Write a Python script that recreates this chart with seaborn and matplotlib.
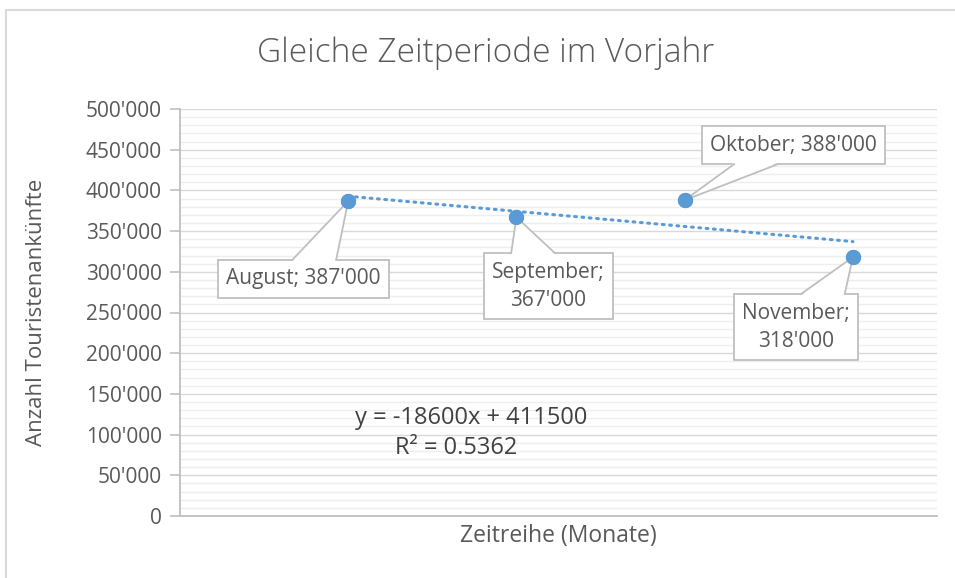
import numpy as np
import pandas as pd
import matplotlib
matplotlib.use("Agg")
import matplotlib.pyplot as plt
import seaborn as sns
from matplotlib.ticker import FuncFormatter, MultipleLocator
from matplotlib.lines import Line2D
from matplotlib.patches import Polygon

# ---- data ----
months = ["August", "September", "Oktober", "November"]
month_index = [1, 2, 3, 4]
arrivals = [387000, 367000, 388000, 318000]
y_ticks = [0, 50000, 100000, 150000, 200000, 250000, 300000, 350000, 400000, 450000, 500000]

df = pd.DataFrame({"Monat": months, "x": month_index, "Ankuenfte": arrivals})

# ---- style ----
sns.set_theme(style="white")
plt.rcParams["font.family"] = ["Open Sans", "DejaVu Sans"]

GRAY_TXT = "#595959"
BLUE = "#5B9BD5"
BOX_EC = "#BFBFBF"

fig = plt.figure(figsize=(9.55, 5.78), dpi=100)
ax = fig.add_axes([180 / 955, 1 - 516 / 578, (937 - 180) / 955, (516 - 109) / 578])

ax.set_xlim(0, 4.5)
ax.set_ylim(0, 500000)

# gridlines
ax.yaxis.set_major_locator(MultipleLocator(50000))
ax.yaxis.set_minor_locator(MultipleLocator(10000))
ax.grid(which="major", axis="y", color="#D9D9D9", lw=1.0, zorder=0)
ax.grid(which="minor", axis="y", color="#EEEEEE", lw=1.0, zorder=0)
ax.set_axisbelow(True)

# trendline from data
slope, intercept = np.polyfit(df["x"], df["Ankuenfte"], 1)
pred = slope * df["x"] + intercept
r2 = 1 - ((df["Ankuenfte"] - pred) ** 2).sum() / ((df["Ankuenfte"] - df["Ankuenfte"].mean()) ** 2).sum()
xs = np.array([df["x"].min(), df["x"].max()])
ax.plot(xs, slope * xs + intercept, color=BLUE, lw=2.2, ls=(0, (0.6, 1.8)),
        dash_capstyle="round", zorder=3)

sns.scatterplot(data=df, x="x", y="Ankuenfte", ax=ax, color=BLUE, s=120,
                edgecolor=BLUE, linewidth=0, zorder=4, legend=False)

# data labels (boxes)
label_offsets = [(-45, -78), (32, -69), (109, 55), (-57, -70)]
anns = []
for (m, xv, yv), (dx, dy) in zip(zip(months, month_index, arrivals), label_offsets):
    val = f"{yv:,}".replace(",", "'")
    txt = f"{m}; {val}" if m in ("August", "Oktober") else f"{m};\n{val}"
    a = ax.annotate(txt, xy=(xv, yv), xycoords="data",
                    xytext=(dx, dy), textcoords="offset pixels",
                    ha="center", va="center", fontsize=15, color=GRAY_TXT,
                    linespacing=1.45,
                    bbox=dict(boxstyle="square,pad=0.4", fc="white", ec=BOX_EC, lw=1.3),
                    zorder=5)
    anns.append((a, xv, yv))

# trendline equation
eq = f"y = {slope:.0f}x + {intercept:.0f}"
ax.text(1.73, 120400, eq, ha="center", va="center", fontsize=17, color="#404040")
ax.text(1.64, 83500, f"R² = {r2:.4f}", ha="center", va="center", fontsize=17, color="#404040")

# axes formatting
ax.set_yticks(y_ticks)
ax.yaxis.set_major_formatter(FuncFormatter(lambda v, p: f"{int(v):,}".replace(",", "'")))
ax.set_xticks([])
ax.tick_params(axis="y", which="major", length=7, width=1.2, color="#BFBFBF",
               labelsize=15, labelcolor=GRAY_TXT, pad=6, left=True, direction="out")
ax.tick_params(axis="y", which="minor", length=0)
for s in ["top", "right"]:
    ax.spines[s].set_visible(False)
for s in ["left", "bottom"]:
    ax.spines[s].set_color("#BFBFBF")
    ax.spines[s].set_linewidth(1.3)

ax.set_xlabel("Zeitreihe (Monate)", fontsize=16.5, color=GRAY_TXT, labelpad=6)
ax.set_ylabel("Anzahl Touristenankünfte", fontsize=16, color=GRAY_TXT, labelpad=28)

fig.text(486 / 955, 1 - 53 / 578, "Gleiche Zeitperiode im Vorjahr", ha="center", va="center",
         fontsize=24, color=GRAY_TXT, fontweight="light")

# chart area border (left and top visible)
fig.add_artist(Line2D([6 / 955, 6 / 955], [0, 1 - 10 / 578], transform=fig.transFigure,
                      color="#D9D9D9", lw=1.5))
fig.add_artist(Line2D([6 / 955, 1], [1 - 10 / 578, 1 - 10 / 578], transform=fig.transFigure,
                      color="#D9D9D9", lw=1.5))

# callout wedges: from box edge to the data point
fig.canvas.draw()
renderer = fig.canvas.get_renderer()
to_axes = ax.transAxes.inverted()
HALF_BASE = 22.0
for a, xv, yv in anns:
    bb = a.get_bbox_patch().get_window_extent(renderer)
    cx, cy = (bb.x0 + bb.x1) / 2, (bb.y0 + bb.y1) / 2
    px, py = ax.transData.transform((xv, yv))
    vx, vy = px - cx, py - cy
    tx = (bb.width / 2) / abs(vx) if vx != 0 else np.inf
    ty = (bb.height / 2) / abs(vy) if vy != 0 else np.inf
    if ty <= tx:
        ex, ey = cx + vx * ty, cy + vy * ty
        d = np.array([1.0, 0.0])
        inward = np.array([0.0, -np.sign(vy)])
    else:
        ex, ey = cx + vx * tx, cy + vy * tx
        d = np.array([0.0, 1.0])
        inward = np.array([-np.sign(vx), 0.0])
    e = np.array([ex, ey])
    b1, b2 = e - d * HALF_BASE, e + d * HALF_BASE
    tip = np.array([px, py])
    fill_pts = np.array([b1 + inward * 1.5, tip, b2 + inward * 1.5])
    ax.add_patch(Polygon(to_axes.transform(fill_pts), closed=True, transform=ax.transAxes,
                         fc="white", ec="none", zorder=6, clip_on=False))
    line_pts = to_axes.transform(np.array([b1, tip, b2]))
    ax.add_line(Line2D(line_pts[:, 0], line_pts[:, 1], transform=ax.transAxes,
                       color=BOX_EC, lw=1.3, zorder=6.5, clip_on=False,
                       solid_joinstyle="miter"))

# redraw markers above wedge tips
ax.scatter(df["x"], df["Ankuenfte"], s=120, color=BLUE, linewidth=0, zorder=7)

fig.savefig("out.png", dpi=100, facecolor="white")
